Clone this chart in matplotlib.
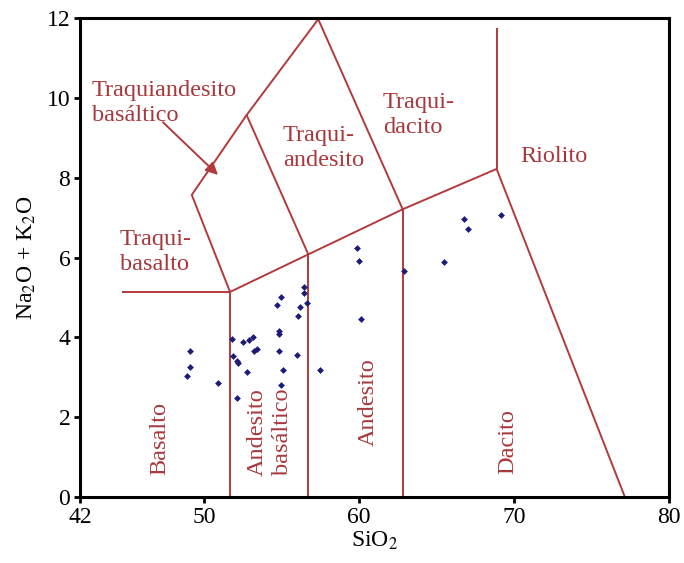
import matplotlib
matplotlib.use("Agg")
import matplotlib.pyplot as plt

plt.rcParams['font.family'] = ['Liberation Serif', 'DejaVu Serif']
plt.rcParams['mathtext.fontset'] = 'stix'

# Sample points (SiO2, Na2O+K2O)
sio2 = [49.10, 49.10, 48.92, 50.88, 51.83, 51.85, 52.11, 52.17, 52.79, 52.50,
        52.92, 53.18, 53.23, 53.40, 52.13, 54.73, 54.99, 54.86, 54.82, 54.86,
        55.08, 54.95, 56.00, 56.06, 56.17, 56.43, 56.47, 56.66, 57.48, 59.89,
        60.02, 60.11, 62.90, 65.48, 66.79, 67.03, 69.16]
alk = [3.66, 3.26, 3.03, 2.85, 3.95, 3.53, 3.41, 3.35, 3.14, 3.88,
       3.93, 4.00, 3.66, 3.72, 2.49, 4.81, 5.02, 4.17, 4.08, 3.66,
       3.18, 2.81, 3.55, 4.54, 4.75, 5.27, 5.12, 4.87, 3.18, 6.23,
       5.91, 4.46, 5.66, 5.90, 6.96, 6.72, 7.07]

# Field boundary polylines
boundaries = [
    ([44.69, 51.68], [5.14, 5.14]),
    ([51.68, 51.68], [0, 5.14]),
    ([56.73, 56.73], [0, 6.08]),
    ([62.82, 62.82], [0, 7.21]),
    ([51.68, 56.73, 62.82, 68.88], [5.14, 6.08, 7.21, 8.22]),
    ([68.88, 68.88], [8.22, 11.74]),
    ([68.88, 77.16], [8.22, 0]),
    ([51.68, 49.21, 52.75, 57.37], [5.14, 7.57, 9.57, 11.97]),
    ([52.75, 56.73], [9.57, 6.08]),
    ([57.37, 62.82], [11.97, 7.21]),
]

line_color = '#b33a3c'
text_color = '#a8383c'

fig = plt.figure(figsize=(6.84, 5.63), dpi=100)
ax = fig.add_axes([0.117, 0.117, 0.861, 0.851])

for xs, ys in boundaries:
    ax.plot(xs, ys, color=line_color, lw=1.4, solid_capstyle='butt')

ax.scatter(sio2, alk, marker='D', s=12, color='#1c1c78', zorder=5, linewidths=0)

fs = 17.5
ls = 1.25
ax.text(42.75, 9.87, "Traquiandesito\nbasáltico", color=text_color, fontsize=fs,
        ha='left', va='center', linespacing=ls)
ax.annotate("", xy=(50.9, 8.07), xytext=(47.35, 9.39),
            arrowprops=dict(arrowstyle='-|>', color=line_color, lw=1.4,
                            mutation_scale=18, shrinkA=0, shrinkB=0))
ax.text(55.1, 8.74, "Traqui-\nandesito", color=text_color, fontsize=fs,
        ha='left', va='center', linespacing=ls)
ax.text(61.55, 9.57, "Traqui-\ndacito", color=text_color, fontsize=fs,
        ha='left', va='center', linespacing=ls)
ax.text(70.39, 8.52, "Riolito", color=text_color, fontsize=fs,
        ha='left', va='center')
ax.text(44.58, 6.14, "Traqui-\nbasalto", color=text_color, fontsize=fs,
        ha='left', va='center', linespacing=ls)
ax.text(47.16, 1.48, "Basalto", color=text_color, fontsize=fs,
        ha='center', va='center', rotation=90)
ax.text(54.26, 1.63, "Andesito\nbasáltico", color=text_color, fontsize=fs,
        ha='center', va='center', rotation=90, linespacing=ls,
        multialignment='center')
ax.text(60.58, 2.38, "Andesito", color=text_color, fontsize=fs,
        ha='center', va='center', rotation=90)
ax.text(69.6, 1.38, "Dacito", color=text_color, fontsize=fs,
        ha='center', va='center', rotation=90)

ax.set_xlim(42, 80)
ax.set_ylim(0, 12)
ax.set_xticks([42, 50, 60, 70, 80])
ax.set_yticks([0, 2, 4, 6, 8, 10, 12])
ax.tick_params(direction='out', length=4, width=2, labelsize=17, pad=3,
               top=False, right=False)
for sp in ax.spines.values():
    sp.set_linewidth(2.2)
    sp.set_color('black')

ax.set_xlabel("SiO$_2$", fontsize=17, labelpad=1)
ax.set_ylabel("Na$_2$O + K$_2$O", fontsize=17, labelpad=6)

fig.savefig("out.png", dpi=100)
